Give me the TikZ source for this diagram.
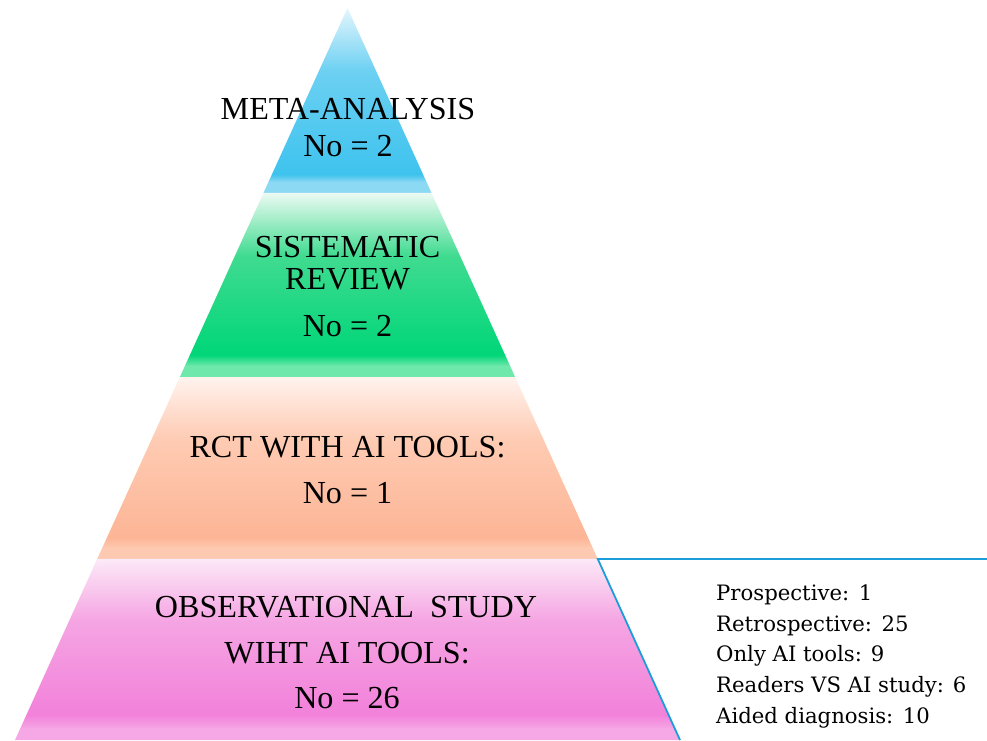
\documentclass[tikz,border=0pt]{standalone}
\usepackage{fontspec}
\newfontfamily\tierfont{Liberation Serif}
\newfontfamily\listfont{DejaVu Serif}[Scale=0.80]
\usetikzlibrary{calc}

\definecolor{bluetop}{HTML}{E4F6FD}
\definecolor{bluemid}{HTML}{6CD0F2}
\definecolor{bluedeep}{HTML}{3EC3EE}
\definecolor{bluelow}{HTML}{8CD9F4}
\definecolor{greentop}{HTML}{ECFAF2}
\definecolor{greenmid}{HTML}{40DB90}
\definecolor{greendeep}{HTML}{00D678}
\definecolor{greenlow}{HTML}{6FE8AC}
\definecolor{peachtop}{HTML}{FFF3EE}
\definecolor{peachmid}{HTML}{FECBB3}
\definecolor{peachdeep}{HTML}{FDB596}
\definecolor{peachlow}{HTML}{FDC9B0}
\definecolor{pinktop}{HTML}{FCE9F7}
\definecolor{pinkmid}{HTML}{F5A5E3}
\definecolor{pinkdeep}{HTML}{F281DA}
\definecolor{pinklow}{HTML}{F6A8E6}
\definecolor{edgeblue}{HTML}{1B9DD9}

% vertical band shadings: light at the top, deepest near the bottom, a paler strip at the very bottom
\pgfdeclareverticalshading{bandblue}{100bp}{color(0bp)=(bluelow);
  color(25bp)=(bluelow); color(28bp)=(bluelow); color(30bp)=(bluedeep); color(58bp)=(bluemid); color(75bp)=(bluetop); color(100bp)=(bluetop)}
\pgfdeclareverticalshading{bandgreen}{100bp}{color(0bp)=(greenlow);
  color(25bp)=(greenlow); color(28bp)=(greenlow); color(31bp)=(greendeep); color(58bp)=(greenmid); color(75bp)=(greentop); color(100bp)=(greentop)}
\pgfdeclareverticalshading{bandpeach}{100bp}{color(0bp)=(peachlow);
  color(25bp)=(peachlow); color(28bp)=(peachlow); color(31bp)=(peachdeep); color(58bp)=(peachmid); color(75bp)=(peachtop); color(100bp)=(peachtop)}
\pgfdeclareverticalshading{bandpink}{100bp}{color(0bp)=(pinklow);
  color(25bp)=(pinklow); color(28bp)=(pinklow); color(32bp)=(pinkdeep); color(58bp)=(pinkmid); color(75bp)=(pinktop); color(100bp)=(pinktop)}

\tikzset{
  tiertext/.style={font=\tierfont\fontsize{32.1}{36}\selectfont, inner sep=0pt, anchor=base, text=black},
  listtext/.style={font=\listfont\fontsize{26.5}{30.7}\selectfont, inner sep=0pt, anchor=base west, text=black},
  edgeline/.style={draw=edgeblue, line width=1.8pt},
}

\begin{document}
\begin{tikzpicture}[x=1pt, y=-1pt]
  \useasboundingbox (0,0) rectangle (987,740);

  % pyramid outline points
  \coordinate (apex) at (347.5,8);
  \coordinate (bl) at (15,740);
  \coordinate (br) at (680,740);
  \coordinate (l1) at ($(apex)!0.2527!(bl)$);
  \coordinate (r1) at ($(apex)!0.2527!(br)$);
  \coordinate (l2) at ($(apex)!0.5041!(bl)$);
  \coordinate (r2) at ($(apex)!0.5041!(br)$);
  \coordinate (l3) at ($(apex)!0.7527!(bl)$);
  \coordinate (r3) at ($(apex)!0.7527!(br)$);

  % tiers
  \shade[shading=bandblue] (apex) -- (r1) -- (l1) -- cycle;
  \shade[shading=bandgreen] (l1) -- (r1) -- (r2) -- (l2) -- cycle;
  \shade[shading=bandpeach] (l2) -- (r2) -- (r3) -- (l3) -- cycle;
  \shade[shading=bandpink] (l3) -- (r3) -- (br) -- (bl) -- cycle;

  % callout frame for the base tier
  \coordinate (calloutend) at (987,559);
  \draw[edgeline] (calloutend) -- (r3) -- (br);

  % tier labels
  \node[tiertext] (t1a) at (348,119) {META-ANALYSIS};
  \node[tiertext] (t1b) at (348,156) {No = 2};
  \node[tiertext] (t2a) at (347.5,257) {SISTEMATIC};
  \node[tiertext] (t2b) at (347.5,289) {REVIEW};
  \node[tiertext] (t2c) at (347.5,336) {No = 2};
  \node[tiertext] (t3a) at (347.5,457) {RCT WITH AI TOOLS:};
  \node[tiertext] (t3b) at (347.5,503) {No = 1};
  \node[tiertext] (t4a) at (346,617) {OBSERVATIONAL\hspace{0.25em} STUDY};
  \node[tiertext] (t4b) at (347,663) {WIHT AI TOOLS:};
  \node[tiertext] (t4c) at (347,708) {No = 26};

  % breakdown of the observational studies
  \node[listtext] (s1) at (716,600) {Prospective:\hspace{0.45em}1};
  \node[listtext] (s2) at (716,631) {Retrospective:\hspace{0.45em}25};
  \node[listtext] (s3) at (716,661) {Only AI tools: 9};
  \node[listtext] (s4) at (716,692) {Readers VS AI study: 6};
  \node[listtext] (s5) at (716,723) {Aided diagnosis:\hspace{0.45em}10};
\end{tikzpicture}
\end{document}
